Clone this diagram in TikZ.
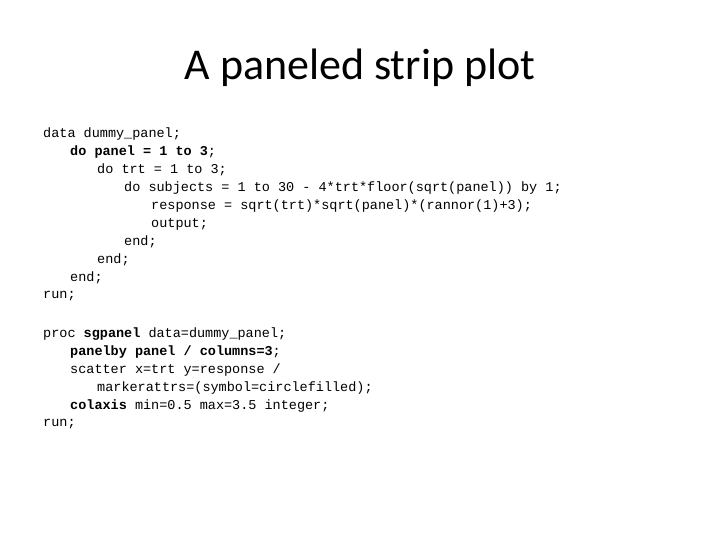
\documentclass[tikz,border=0pt]{standalone}
\usepackage{fontspec}
\setmainfont{Carlito}
\setmonofont{Liberation Mono}
\begin{document}
\begin{tikzpicture}[x=1pt,y=-1pt,code/.style={anchor=west,inner sep=0pt,font=\ttfamily\fontsize{13.5}{15}\selectfont}]
\useasboundingbox[fill=white] (0,0) rectangle (720,540);
\node[font=\fontsize{44}{48}\selectfont] (title) at (360,68) {A paneled strip plot};
\node[code] (l1) at (43,134) {data dummy\_panel;};
\node[code] (l2) at (70,152) {\textbf{do panel = 1 to 3};};
\node[code] (l3) at (97,170) {do trt = 1 to 3;};
\node[code] (l4) at (124,188) {do subjects = 1 to 30 - 4*trt*floor(sqrt(panel)) by 1;};
\node[code] (l5) at (151,206) {response = sqrt(trt)*sqrt(panel)*(rannor(1)+3);};
\node[code] (l6) at (151,224) {output;};
\node[code] (l7) at (124,242) {end;};
\node[code] (l8) at (97,260) {end;};
\node[code] (l9) at (70,278) {end;};
\node[code] (l10) at (43,296) {run;};
\node[code] (m1) at (43,334) {proc \textbf{sgpanel} data=dummy\_panel;};
\node[code] (m2) at (70,352) {\textbf{panelby panel / columns=3};};
\node[code] (m3) at (70,370) {scatter x=trt y=response /};
\node[code] (m4) at (97,388) {markerattrs=(symbol=circlefilled);};
\node[code] (m5) at (70,406) {\textbf{colaxis} min=0.5 max=3.5 integer;};
\node[code] (m6) at (43,424) {run;};
\end{tikzpicture}
\end{document}
